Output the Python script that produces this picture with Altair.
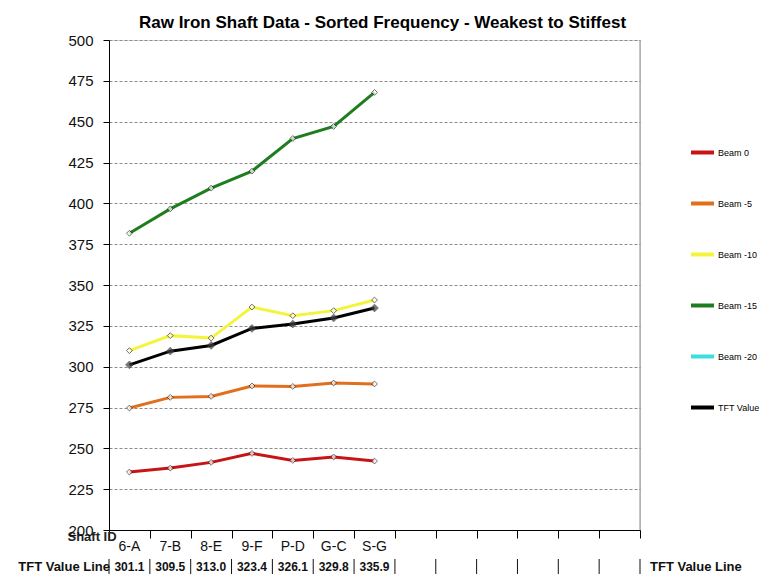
import altair as alt
import pandas as pd

cats = ["6-A", "7-B", "8-E", "9-F", "P-D", "G-C", "S-G"]
beam0 = [235.5, 237.9, 241.4, 246.9, 242.6, 244.7, 242.2]
beam5 = [274.7, 281.2, 281.8, 288.2, 287.9, 290.0, 289.4]
beam10 = [309.8, 319.0, 317.5, 336.5, 331.2, 334.3, 340.8]
beam15 = [381.7, 396.6, 409.3, 419.7, 439.7, 447.1, 467.9]
beam20 = []
tft = [301.1, 309.5, 313.0, 323.4, 326.1, 329.8, 335.9]

series_names = ["Beam 0", "Beam -5", "Beam -10", "Beam -15", "Beam -20", "TFT Value"]
series_colors = ["#c81414", "#e0701e", "#f4f43c", "#1e7d1e", "#3cdede", "#000000"]
series_values = [beam0, beam5, beam10, beam15, beam20, tft]

rows = []
for name, vals in zip(series_names, series_values):
    for i, v in enumerate(vals):
        rows.append({"series": name, "cat": cats[i], "pos": i + 0.5, "value": v,
                     "order": series_names.index(name)})
df = pd.DataFrame(rows)

table_df = pd.DataFrame({"pos": [i + 0.5 for i in range(len(cats))],
                         "cat": cats,
                         "tft": [f"{v:.1f}" for v in tft]})
sep_df = pd.DataFrame({"pos": list(range(0, 14))})

FONT = "Liberation Sans"
W, H = 531, 490

base = alt.Chart(df)

x_enc = alt.X("pos:Q", scale=alt.Scale(domain=[0, 13], nice=False, zero=False),
              axis=alt.Axis(values=list(range(0, 14)), labels=False, tickSize=8,
                            tickColor="black", domainColor="black", grid=False,
                            title="Shaft ID", titleFont=FONT, titleFontSize=13,
                            titleFontWeight="bold", titleX=-42, titleY=6,
                            titleAlign="left", titleBaseline="middle", titleColor="#222"))
y_enc = alt.Y("value:Q", scale=alt.Scale(domain=[200, 500], nice=False, zero=False),
              axis=alt.Axis(values=list(range(200, 501, 25)), title=None,
                            labelFont=FONT, labelFontSize=15, labelColor="#111",
                            tickSize=6, tickColor="black", domainColor="black",
                            labelPadding=10, grid=True, gridDash=[3, 2],
                            gridColor="#8c8c8c", gridWidth=1))

lines = base.mark_line(strokeWidth=3).encode(
    x=x_enc, y=y_enc,
    color=alt.Color("series:N",
                    scale=alt.Scale(domain=series_names, range=series_colors),
                    legend=alt.Legend(title=None, orient="none", legendX=580, legendY=99,
                                      symbolType="stroke", symbolStrokeWidth=4,
                                      symbolSize=529, labelFont=FONT, labelFontSize=9,
                                      labelColor="black", rowPadding=29, labelOffset=2)),
    order="order:Q",
)

pts = base.transform_filter(alt.datum.series != "TFT Value").mark_point(
    shape="diamond", filled=True, fill="white", stroke="black", strokeWidth=0.8, size=34
).encode(x="pos:Q", y="value:Q")

pts_tft = base.transform_filter(alt.datum.series == "TFT Value").mark_point(
    shape="diamond", filled=True, fill="#404040", stroke="#303030", strokeWidth=0.8, size=60
).encode(x="pos:Q", y="value:Q")

border = alt.Chart(sep_df).transform_filter(alt.datum.pos == 13).mark_rule(
    color="#8c8c8c", strokeWidth=1).encode(x="pos:Q", y=alt.value(0), y2=alt.value(H))

cat_labels = alt.Chart(table_df).mark_text(
    font=FONT, fontSize=14, color="#111", baseline="middle", align="center"
).encode(x="pos:Q", y=alt.value(H + 17), text="cat:N")

tft_labels = alt.Chart(table_df).mark_text(
    font=FONT, fontSize=12, fontWeight="bold", color="#111", baseline="middle", align="center"
).encode(x="pos:Q", y=alt.value(H + 37), text="tft:N")

seps = alt.Chart(sep_df).mark_rule(color="#111", strokeWidth=1).encode(
    x="pos:Q", y=alt.value(H + 29), y2=alt.value(H + 45))

row_left = alt.Chart(table_df).transform_filter(alt.datum.pos == 0.5).mark_text(
    font=FONT, fontSize=13, fontWeight="bold", color="#111", baseline="middle", align="right"
).encode(x=alt.value(1), y=alt.value(H + 37), text=alt.value("TFT Value Line"))

row_right = alt.Chart(table_df).transform_filter(alt.datum.pos == 0.5).mark_text(
    font=FONT, fontSize=13, fontWeight="bold", color="#111", baseline="middle", align="left"
).encode(x=alt.value(W + 10), y=alt.value(H + 37), text=alt.value("TFT Value Line"))

chart = alt.layer(lines, pts_tft, pts, border, cat_labels, tft_labels, seps, row_left, row_right).properties(
    width=W, height=H,
    title=alt.TitleParams("Raw Iron Shaft Data - Sorted Frequency  - Weakest to Stiffest",
                          font=FONT, fontSize=17, fontWeight="bold", color="black",
                          anchor="middle", offset=1, dx=8),
    autosize=alt.AutoSizeParams(type="none"),
    padding={"left": 101, "top": 32, "right": 122, "bottom": 44},
).configure_view(stroke=None).configure(background="white")

chart.save("out.html", embed_options={"renderer": "svg", "actions": False})
